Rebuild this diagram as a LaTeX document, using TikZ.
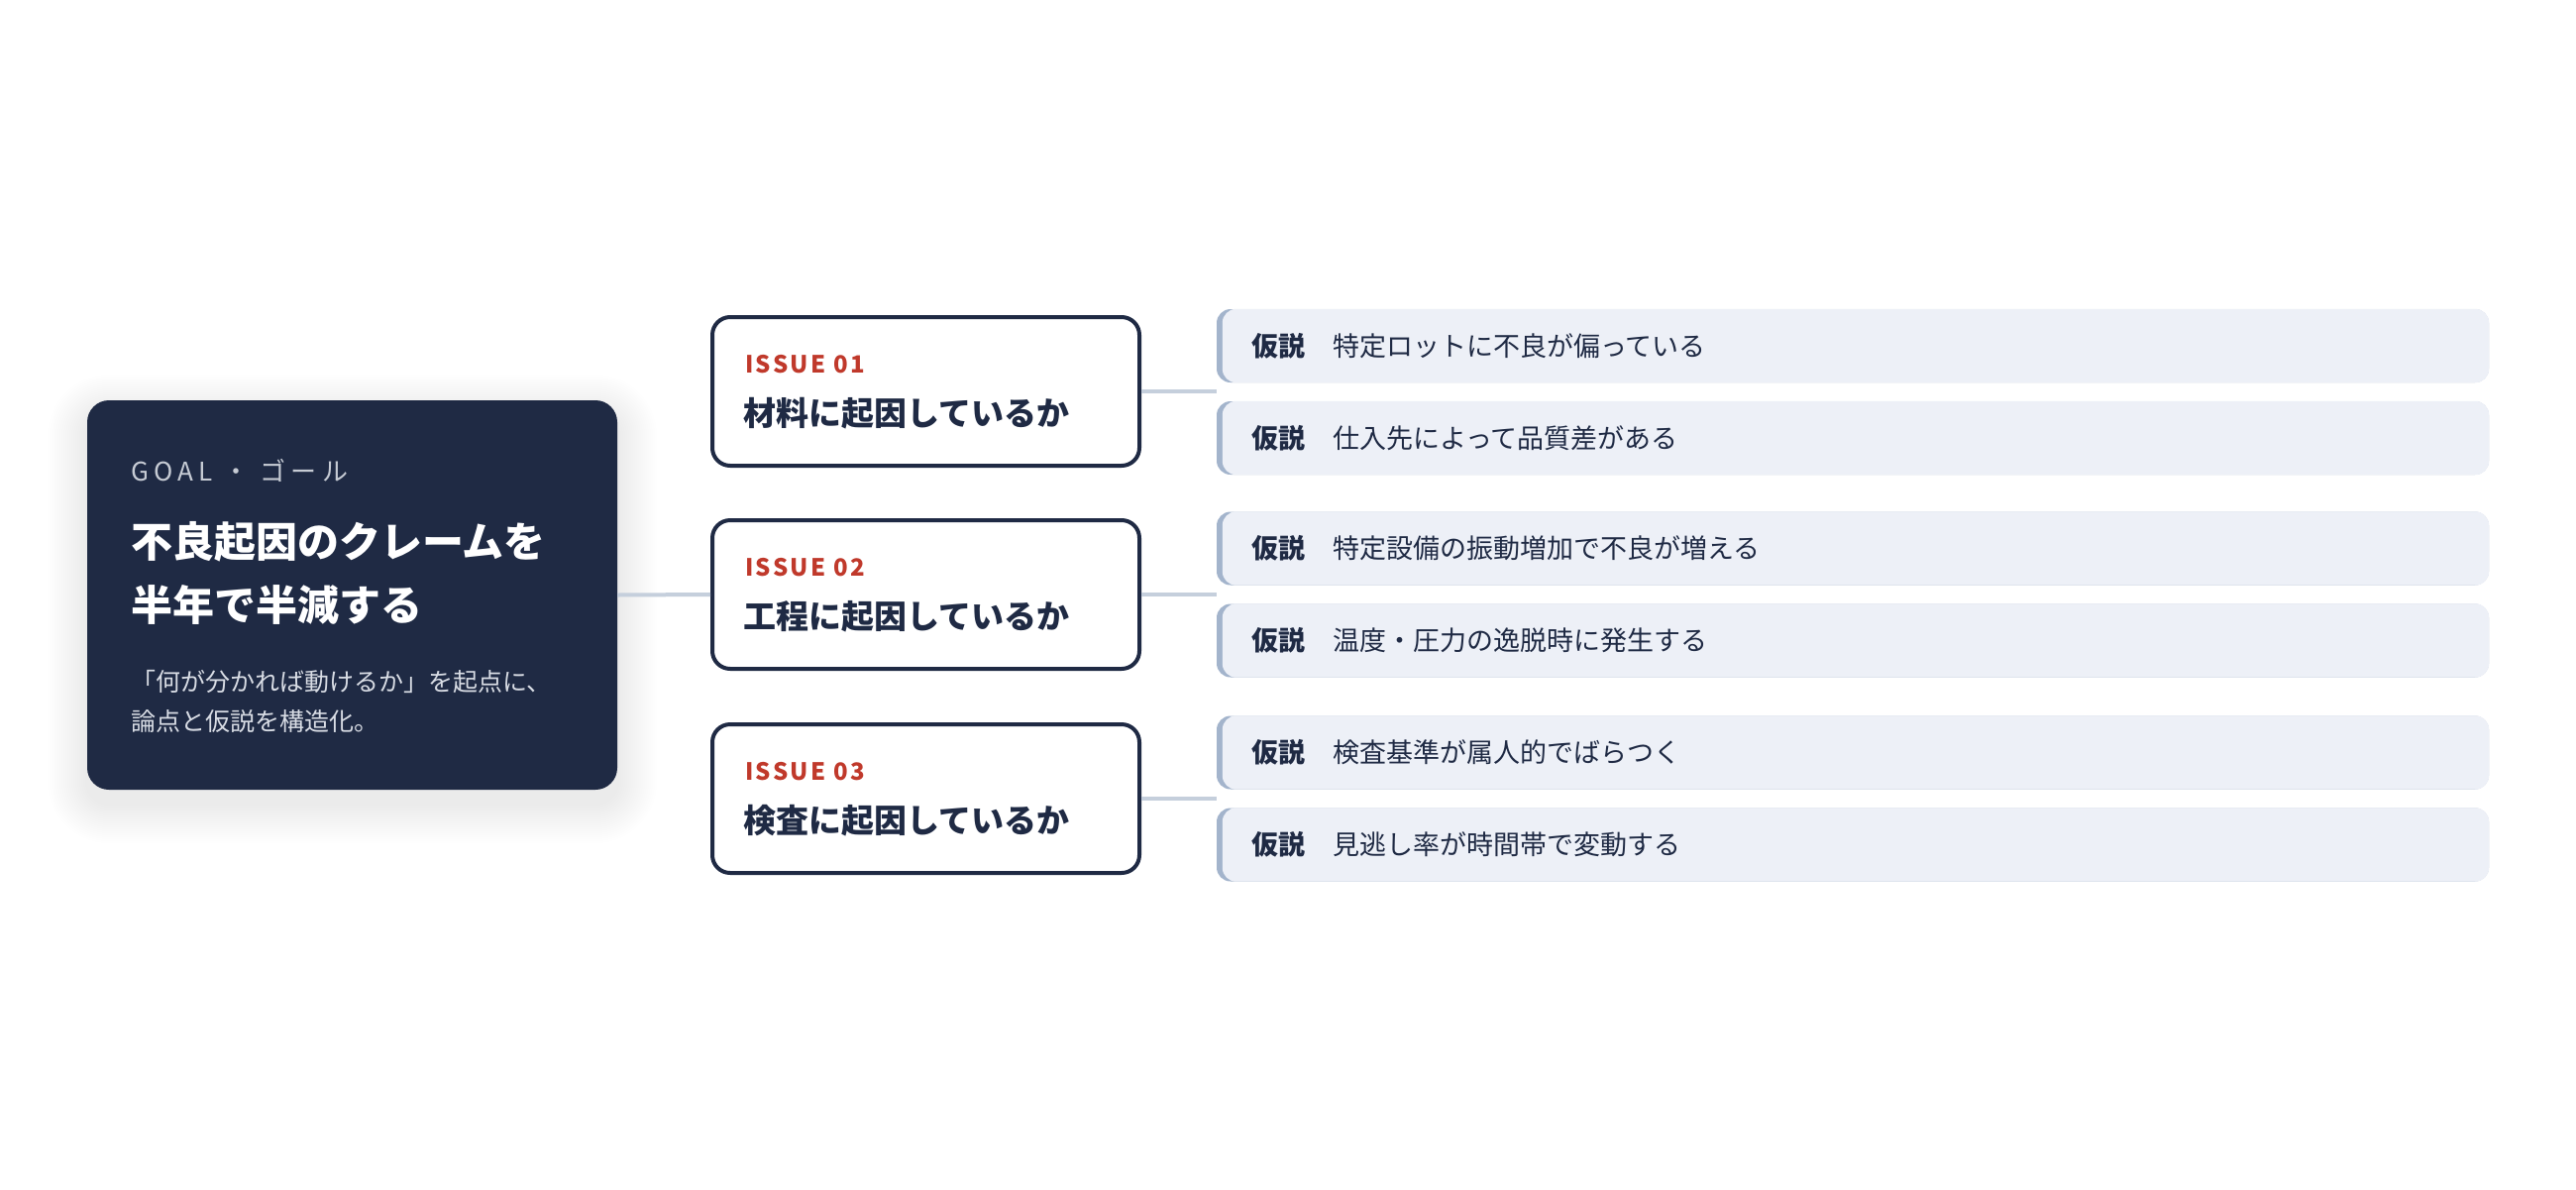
\documentclass[tikz,border=0pt]{standalone}
\usepackage{fontspec}
\setmainfont{Noto Sans CJK JP}
\definecolor{navy}{HTML}{1F2A44}
\definecolor{issuered}{HTML}{C0392B}
\definecolor{linkc}{HTML}{C5CFDC}
\definecolor{hypfill}{HTML}{EDF0F7}
\definecolor{hypbar}{HTML}{A3B4CC}
\definecolor{goallabel}{HTML}{C6CBD4}
\definecolor{goalsub}{HTML}{D9DDE5}
\tikzset{
  goalbox/.style={fill=navy, rounded corners=22pt, minimum width=535pt, minimum height=393pt, inner sep=0pt},
  issuebox/.style={fill=white, draw=navy, line width=4pt, rounded corners=18pt, minimum width=431pt, minimum height=150pt, inner sep=0pt},
  hypbox/.style={fill=hypbar, rounded corners=14pt, minimum width=1284pt, minimum height=74pt, inner sep=0pt},
  link/.style={draw=linkc, line width=4pt},
  txt/.style={anchor=west, inner sep=0pt},
  issuelabel/.style={txt, text=issuered, font=\fontsize{24pt}{28pt}\selectfont\bfseries\addfontfeature{LetterSpace=10}},
  issuetitle/.style={txt, text=navy, font=\fontsize{33pt}{38pt}\selectfont\bfseries},
  hyptag/.style={txt, text=navy, font=\fontsize{27pt}{30pt}\selectfont\bfseries},
  hyptext/.style={txt, text=navy, font=\fontsize{27pt}{30pt}\selectfont},
}
\begin{document}
\begin{tikzpicture}[x=1pt,y=-1pt]
\useasboundingbox[fill=white] (0,0) rectangle (2600,1200);
% soft shadow of goal box
\foreach \s in {2,4,...,40}{
  \fill[navy, opacity=0.0045, rounded corners=22pt+\s pt] (88-\s,404-\s+14) rectangle (623+\s,797+\s+14);
}
\node[goalbox] (goal) at (355.5,600.5) {};
\node[txt, text=goallabel, font=\fontsize{26pt}{30pt}\selectfont\addfontfeature{LetterSpace=20}] (goallab) at (132,475) {GOAL ・ ゴール};
\node[txt, text=white, font=\fontsize{42pt}{48pt}\selectfont\bfseries] (goalt1) at (132,547) {不良起因のクレームを};
\node[txt, text=white, font=\fontsize{42pt}{48pt}\selectfont\bfseries] (goalt2) at (132,610) {半年で半減する};
\node[txt, text=goalsub, font=\fontsize{25pt}{28pt}\selectfont] (goals1) at (132,688) {「何が分かれば動けるか」を起点に、};
\node[txt, text=goalsub, font=\fontsize{25pt}{28pt}\selectfont] (goals2) at (132,728) {論点と仮説を構造化。};

% issues
\node[issuebox] (i1) at (934.5,395) {};
\node[issuebox] (i2) at (934.5,600) {};
\node[issuebox] (i3) at (934.5,806) {};
\node[issuelabel] (i1l) at (752,368) {ISSUE 01};
\node[issuetitle] (i1t) at (750,417) {材料に起因しているか};
\node[issuelabel] (i2l) at (752,573) {ISSUE 02};
\node[issuetitle] (i2t) at (750,622) {工程に起因しているか};
\node[issuelabel] (i3l) at (752,779) {ISSUE 03};
\node[issuetitle] (i3t) at (750,828) {検査に起因しているか};

% hypotheses
\foreach \n/\y in {h1a/349,h1b/442,h2a/553.5,h2b/646.5,h3a/759.5,h3b/852.5}{
  \node[hypbox] (\n) at (1870,\y) {};
  \fill[hypfill, rounded corners=14pt] ([xshift=6pt]\n.south west) rectangle (\n.north east);
}
\foreach \n/\t in {h1a/特定ロットに不良が偏っている,h1b/仕入先によって品質差がある,h2a/特定設備の振動増加で不良が増える,h2b/温度・圧力の逸脱時に発生する,h3a/検査基準が属人的でばらつく,h3b/見逃し率が時間帯で変動する}{
  \node[hyptag] (\n tag) at ([xshift=35pt]\n.west) {仮説};
  \node[hyptext] (\n txt) at ([xshift=117pt]\n.west) {\t};
}

% connectors
\draw[link] (goal.east) -- (i2.west);
\draw[link] (i1.east) -- (i1.east -| h1a.west);
\draw[link] (i2.east) -- (i2.east -| h2a.west);
\draw[link] (i3.east) -- (i3.east -| h3a.west);
\end{tikzpicture}
\end{document}
